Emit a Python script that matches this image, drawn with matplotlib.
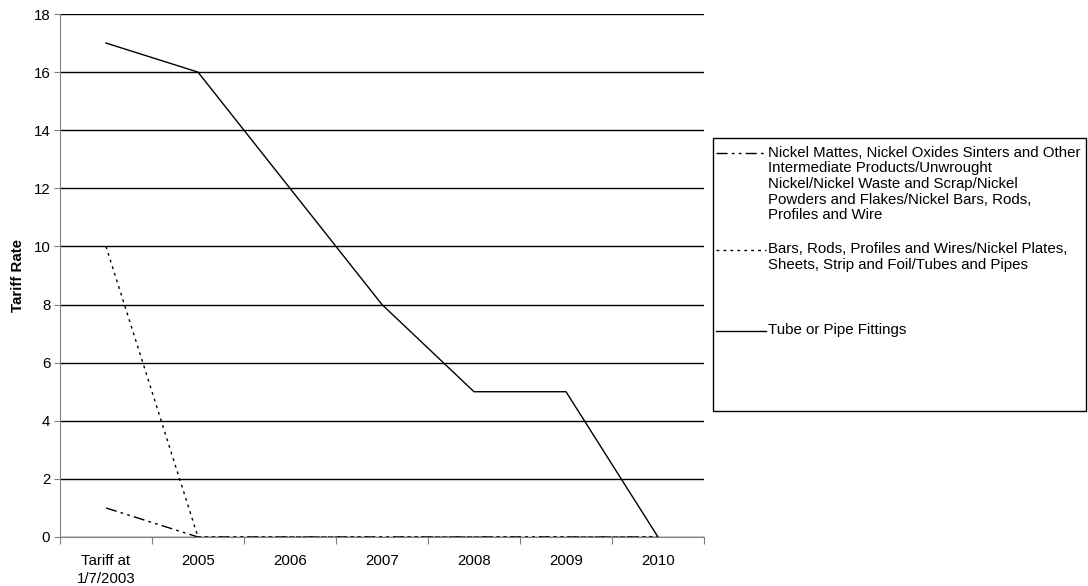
import matplotlib
matplotlib.use("Agg")
import matplotlib.pyplot as plt
from matplotlib.patches import Rectangle

plt.rcParams['font.family'] = ['Liberation Sans', 'DejaVu Sans']

categories = ['Tariff at\n1/7/2003', '2005', '2006', '2007', '2008', '2009', '2010']
nickel_mattes = [1, 0, 0, 0, 0, 0, 0]
bars_rods = [10, 0, 0, 0, 0, 0, 0]
tube_fittings = [17, 16, 12, 8, 5, 5, 0]

labels = ['Nickel Mattes, Nickel Oxides Sinters and Other\nIntermediate Products/Unwrought\n'
          'Nickel/Nickel Waste and Scrap/Nickel\nPowders and Flakes/Nickel Bars, Rods,\nProfiles and Wire',
          'Bars, Rods, Profiles and Wires/Nickel Plates,\nSheets, Strip and Foil/Tubes and Pipes',
          'Tube or Pipe Fittings']

fs = 10.8

fig = plt.figure(figsize=(10.88, 5.86), dpi=100)
ax = fig.add_axes([60/1088, 1-537/586, 644/1088, 523/586])

x = list(range(len(categories)))
l1, = ax.plot(x, nickel_mattes, color='k', lw=1, dashes=(8, 3, 2, 3, 2, 3))
l2, = ax.plot(x, bars_rods, color='k', lw=1, dashes=(2, 3))
l3, = ax.plot(x, tube_fittings, color='k', lw=1)

ax.set_xlim(-0.5, 6.5)
ax.set_ylim(0, 18)
ax.set_yticks(range(0, 19, 2))
ax.yaxis.grid(True, color='k', lw=1)
ax.set_axisbelow(True)

ax.set_xticks([i - 0.5 for i in range(8)])
ax.set_xticklabels([])
ax.set_xticks(x, minor=True)
ax.set_xticklabels(categories, minor=True, linespacing=1.35)
ax.tick_params(axis='x', which='minor', length=0, pad=12, labelsize=fs)
ax.tick_params(axis='x', which='major', length=5, direction='out', color='#808080')
ax.tick_params(axis='y', length=4, direction='out', color='#808080', labelsize=fs, pad=3)

for s in ['top', 'right']:
    ax.spines[s].set_visible(False)
ax.spines['left'].set_color('#808080')
ax.spines['bottom'].set_color('#808080')

ax.set_ylabel('Tariff Rate', fontweight='bold', fontsize=fs, labelpad=6)

# legend frame like the Excel one
fig.patches.append(Rectangle((713/1088, 1-411/586), 373/1088, 273/586,
                             transform=fig.transFigure, fill=False,
                             edgecolor='k', lw=1))
# blank lines keep each handle on the first line of its label
leg_labels = ['\n' * 4 + labels[0],
              '\n' + labels[1],
              '\n' * 3 + labels[2] + '\n' * 3]
leg = fig.legend([l1, l2, l3], leg_labels,
                 loc='upper left', bbox_to_anchor=(716/1088, 1-83/586),
                 frameon=False, fontsize=fs, handlelength=3.3, handletextpad=0.15,
                 labelspacing=0.3, borderaxespad=0, borderpad=0)
for t in leg.get_texts():
    t.set_linespacing(1.15)

fig.savefig('out.png', dpi=100)
